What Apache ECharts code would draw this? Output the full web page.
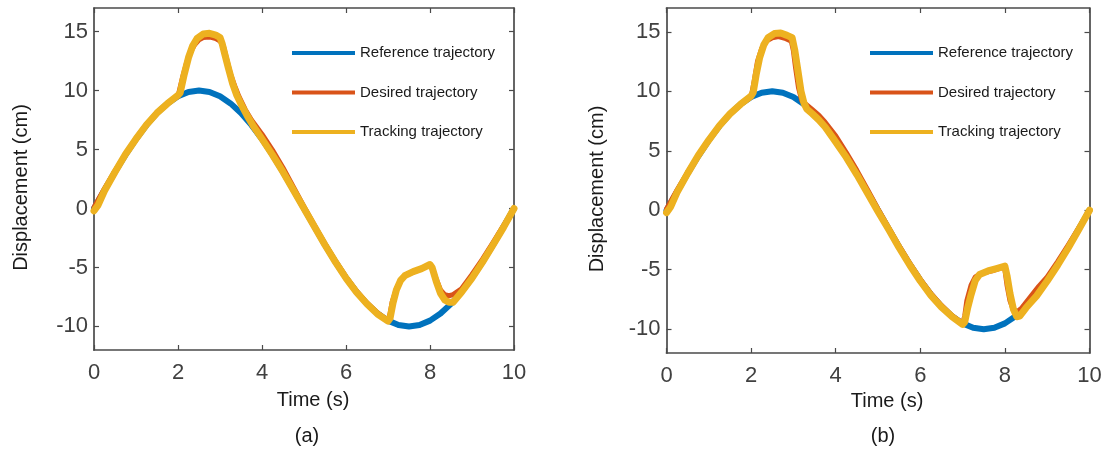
<!DOCTYPE html>
<html><head><meta charset="utf-8">
<script src="https://cdn.jsdelivr.net/npm/echarts@6/dist/echarts.min.js"></script>
<style>html,body{margin:0;padding:0;background:#fff}#c{width:1108px;height:449px}</style>
</head><body><div id="c"></div>
<script>
// ---- data ----
const seriesNames = ['Reference trajectory', 'Desired trajectory', 'Tracking trajectory'];
const panelLabels = ['(a)', '(b)'];
const xTicks = [0, 2, 4, 6, 8, 10];
const yTicks = [-10, -5, 0, 5, 10, 15];

const refTime = [0,0.25,0.5,0.75,1,1.25,1.5,1.75,2,2.25,2.5,2.75,3,3.25,3.5,3.75,4,4.25,4.5,4.75,5,5.25,5.5,5.75,6,6.25,6.5,6.75,7,7.25,7.5,7.75,8,8.25,8.5,8.75,9,9.25,9.5,9.75,10];
const refVal  = [0,1.56,3.09,4.54,5.88,7.07,8.09,8.91,9.51,9.88,10,9.88,9.51,8.91,8.09,7.07,5.88,4.54,3.09,1.56,0,-1.56,-3.09,-4.54,-5.88,-7.07,-8.09,-8.91,-9.51,-9.88,-10,-9.88,-9.51,-8.91,-8.09,-7.07,-5.88,-4.54,-3.09,-1.56,0];

const desATime = [0,0.25,0.5,0.75,1,1.25,1.5,1.75,2,2.1,2.2,2.3,2.4,2.5,2.6,2.75,2.9,3,3.08,3.15,3.25,3.35,3.45,3.6,3.75,4,4.25,4.5,4.75,5,5.25,5.5,5.75,6,6.25,6.5,6.75,7,7.05,7.1,7.2,7.3,7.4,7.6,7.8,8,8.05,8.15,8.25,8.35,8.45,8.55,8.75,9,9.25,9.5,9.75,10];
const desAVal  = [0.1,1.7,3.2,4.6,5.9,7.1,8.1,8.9,9.5,11.0,12.3,13.3,13.9,14.3,14.5,14.55,14.4,14.2,13.8,12.8,11.4,10.4,9.5,8.4,7.5,6.3,4.95,3.45,1.8,0.15,-1.45,-3.0,-4.45,-5.8,-7.0,-8.0,-8.85,-9.5,-8.9,-7.9,-6.8,-6.1,-5.7,-5.4,-5.1,-4.8,-5.0,-6.0,-6.9,-7.3,-7.4,-7.3,-6.8,-5.6,-4.3,-2.9,-1.45,0];

const trkATime = [0,0.1,0.25,0.5,0.75,1,1.25,1.5,1.75,2,2.05,2.15,2.25,2.35,2.45,2.6,2.75,2.9,3,3.05,3.12,3.2,3.3,3.4,3.5,3.65,3.8,4,4.25,4.5,4.75,5,5.25,5.5,5.75,6,6.25,6.5,6.75,7,7.05,7.12,7.2,7.3,7.4,7.6,7.8,8,8.05,8.15,8.25,8.35,8.45,8.55,8.75,9,9.25,9.5,9.75,10];
const trkAVal  = [-0.2,0.3,1.5,3.1,4.6,5.9,7.1,8.1,8.9,9.6,9.8,11.4,12.8,13.8,14.4,14.8,14.85,14.7,14.5,14.0,13.0,11.9,10.6,9.6,8.85,7.85,6.95,5.9,4.55,3.1,1.55,0,-1.55,-3.1,-4.55,-5.9,-7.1,-8.1,-8.95,-9.55,-9.3,-8.0,-6.9,-6.1,-5.7,-5.35,-5.1,-4.75,-5.0,-6.2,-7.2,-7.75,-7.95,-7.95,-7.1,-5.9,-4.55,-3.1,-1.6,0];

const desBTime = [0,0.25,0.5,0.75,1,1.25,1.5,1.75,2,2.08,2.15,2.25,2.35,2.5,2.65,2.8,2.95,3,3.05,3.12,3.2,3.3,3.45,3.6,3.75,4,4.25,4.5,4.75,5,5.25,5.5,5.75,6,6.25,6.5,6.75,7,7.05,7.1,7.2,7.3,7.45,7.7,7.95,8,8.05,8.12,8.2,8.3,8.4,8.6,8.8,9,9.25,9.5,9.75,10];
const desBVal  = [0.1,1.7,3.2,4.6,5.9,7.1,8.1,8.9,9.5,11.0,12.5,13.6,14.2,14.5,14.6,14.45,14.2,13.4,12.0,10.3,9.2,8.9,8.45,8.0,7.4,6.25,4.85,3.35,1.75,0.1,-1.45,-3.0,-4.45,-5.8,-7.0,-8.0,-8.85,-9.5,-8.9,-7.6,-6.3,-5.6,-5.3,-5.1,-4.8,-5.0,-6.3,-7.6,-8.4,-8.5,-8.2,-7.3,-6.4,-5.6,-4.3,-2.9,-1.45,0];

const trkBTime = [0,0.1,0.25,0.5,0.75,1,1.25,1.5,1.75,2,2.05,2.12,2.2,2.3,2.4,2.55,2.7,2.85,2.97,3.03,3.1,3.18,3.25,3.32,3.45,3.6,3.75,3.95,4.25,4.5,4.75,5,5.25,5.5,5.75,6,6.25,6.5,6.75,7,7.05,7.12,7.2,7.3,7.4,7.6,7.8,8,8.05,8.12,8.2,8.28,8.35,8.5,8.75,9,9.25,9.5,9.75,10];
const trkBVal  = [-0.2,0.3,1.5,3.1,4.6,5.9,7.1,8.1,8.9,9.6,9.9,11.4,12.8,13.9,14.5,14.85,14.9,14.7,14.5,13.5,11.9,10.0,9.0,8.5,8.1,7.6,7.0,6.0,4.45,3.0,1.45,-0.1,-1.6,-3.15,-4.6,-5.95,-7.15,-8.15,-8.95,-9.6,-9.4,-8.2,-7.1,-5.9,-5.4,-5.1,-4.9,-4.7,-5.5,-7.0,-8.3,-8.95,-8.9,-8.2,-7.2,-5.95,-4.6,-3.15,-1.6,0];

// ---- styling ----
const FONT = '"Liberation Sans", Arial, Helvetica, sans-serif';
const COLORS = ['#0072BD', '#D95319', '#EDB120'];
const WIDTHS = [6, 5, 7];
const AX = '#4a4a4a';
const grids = [
  {left: 94, top: 8, width: 420, height: 342},
  {left: 666.5, top: 8, width: 423, height: 345}
];
const xNameGap = [40, 38];
const yNameGap = [63, 59];
const legendLeft = [287, 865];
const captionPos = [[307, 436], [883, 436]];

function pairs(t, v) { return t.map((x, i) => [x, v[i]]); }

const xAxes = [], yAxes = [], legends = [], series = [], graphics = [];
const panelData = [
  [pairs(refTime, refVal), pairs(desATime, desAVal), pairs(trkATime, trkAVal)],
  [pairs(refTime, refVal), pairs(desBTime, desBVal), pairs(trkBTime, trkBVal)]
];

grids.forEach((g, gi) => {
  const tick = {show: true, inside: true, length: 5, lineStyle: {color: AX, width: 1.2}};
  const line = {show: true, onZero: false, lineStyle: {color: AX, width: 1.7}};
  xAxes.push({
    type: 'value', gridIndex: gi, position: 'bottom', min: 0, max: 10, interval: 2,
    axisLine: line, axisTick: tick, splitLine: {show: false},
    axisLabel: {show: true, margin: 12, color: '#404040', fontSize: 22, fontFamily: FONT},
    name: 'Time (s)', nameLocation: 'middle', nameGap: xNameGap[gi],
    nameTextStyle: {fontSize: 20, color: '#1a1a1a', fontFamily: FONT, padding: [0, 0, 0, 18]}
  });
  xAxes.push({
    type: 'value', gridIndex: gi, position: 'top', min: 0, max: 10, interval: 2,
    axisLine: line, axisTick: tick, splitLine: {show: false}, axisLabel: {show: false}
  });
  yAxes.push({
    type: 'value', gridIndex: gi, position: 'left', min: -12, max: 17,
    axisLine: line, axisTick: Object.assign({customValues: yTicks}, tick), splitLine: {show: false},
    axisLabel: {show: true, customValues: yTicks, margin: 6, color: '#404040', fontSize: 22, fontFamily: FONT},
    name: 'Displacement (cm)', nameLocation: 'middle', nameGap: yNameGap[gi],
    nameTextStyle: {fontSize: 20, color: '#1a1a1a', fontFamily: FONT, padding: [0, 17, 0, 0]}
  });
  yAxes.push({
    type: 'value', gridIndex: gi, position: 'right', min: -12, max: 17,
    axisLine: line, axisTick: Object.assign({customValues: yTicks}, tick), splitLine: {show: false},
    axisLabel: {show: false}
  });
  legends.push({
    orient: 'vertical', left: legendLeft[gi], top: 40, icon: 'rect',
    itemWidth: 63, itemHeight: 4, itemGap: 23.5, selectedMode: false,
    textStyle: {fontSize: 15, lineHeight: 16, color: '#1a1a1a', fontFamily: FONT},
    data: seriesNames
  });
  panelData[gi].forEach((d, si) => {
    series.push({
      type: 'line', name: seriesNames[si], xAxisIndex: gi * 2, yAxisIndex: gi * 2,
      data: d, symbol: 'none', smooth: false, animation: false,
      itemStyle: {color: COLORS[si]},
      lineStyle: {color: COLORS[si], width: WIDTHS[si], cap: 'round', join: 'round'},
      z: 2 + si
    });
  });
  graphics.push({
    type: 'text', x: captionPos[gi][0], y: captionPos[gi][1],
    style: {text: panelLabels[gi], align: 'center', verticalAlign: 'middle', fontSize: 20, fontFamily: FONT, fill: '#1a1a1a'}
  });
});

const chart = echarts.init(document.getElementById('c'), null, {renderer: 'canvas'});
chart.setOption({
  backgroundColor: '#ffffff',
  animation: false,
  grid: grids,
  xAxis: xAxes,
  yAxis: yAxes,
  legend: legends,
  series: series,
  graphic: graphics
});
</script>
</body></html>
